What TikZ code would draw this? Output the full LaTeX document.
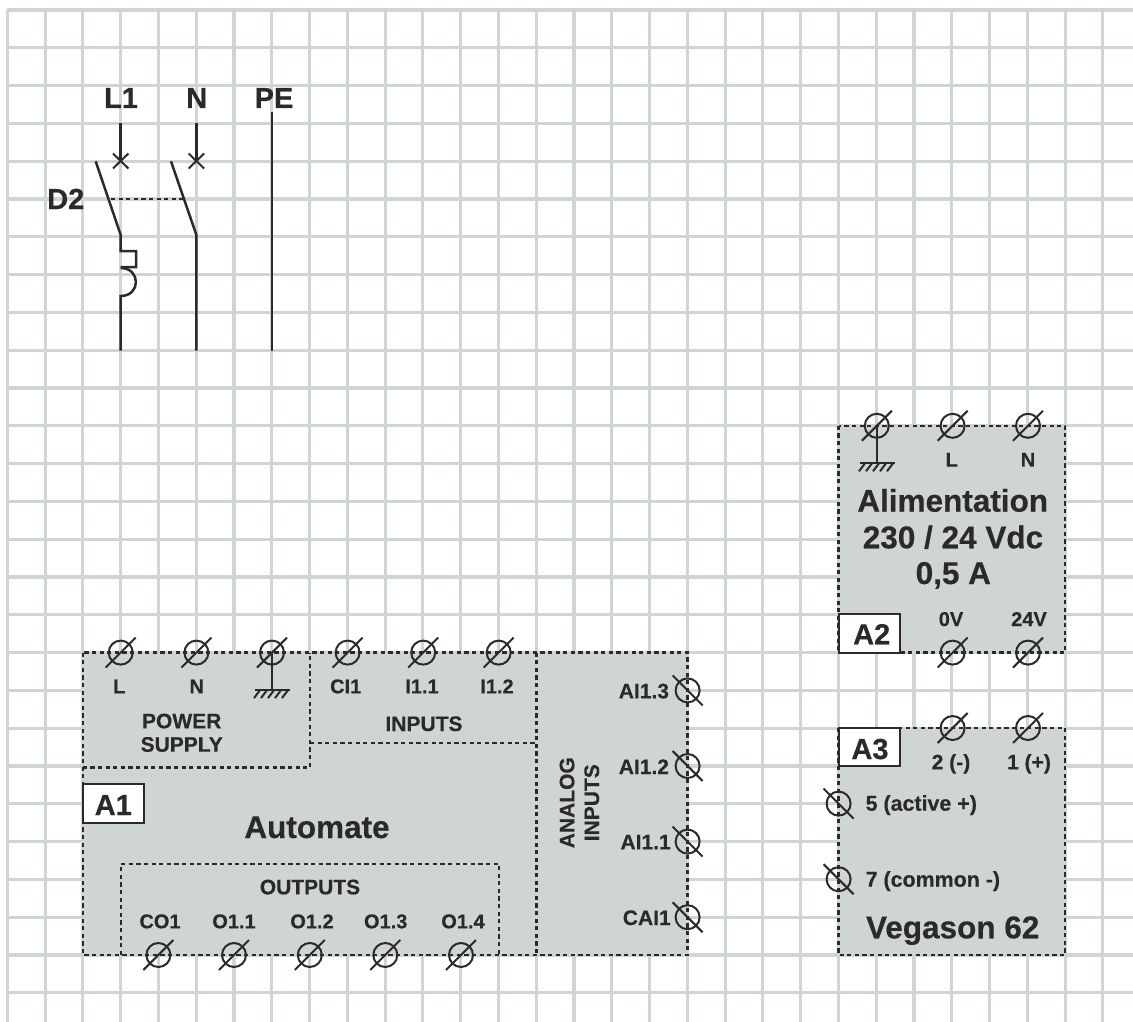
\documentclass[tikz,border=0pt]{standalone}
\usepackage{fontspec}
\setmainfont{Liberation Sans}[BoldFeatures={FakeBold=0.4}]
\definecolor{gridc}{HTML}{CFD5D5}
\definecolor{inkc}{HTML}{2B2A29}
\tikzset{
  gridline/.style={draw=gridc,line width=3.1pt},
  panel/.style={fill=gridc,draw=none},
  dashline/.style={draw=inkc,line width=2.3pt,dash pattern=on 4.2pt off 3.4pt},
  wire/.style={draw=inkc,line width=2.5pt},
  thin wire/.style={draw=inkc,line width=2pt},
  txt/.style={inner sep=0pt,outer sep=0pt,text=inkc,font=\bfseries},
  s20/.style={txt,anchor=base,font=\bfseries\fontsize{20}{20}\selectfont},
  s21/.style={txt,anchor=base,font=\bfseries\fontsize{21}{21}\selectfont},
  s29/.style={txt,anchor=base,font=\bfseries\fontsize{29}{29}\selectfont},
  s31/.style={txt,anchor=base,font=\bfseries\fontsize{31.5}{31.5}\selectfont},
  tagbox/.style={draw=inkc,fill=white,line width=2pt},
  termup/.pic={\draw[thin wire] (0,0) circle (12); \draw[thin wire] (-15,15) -- (15,-15);},
  termdn/.pic={\draw[thin wire] (0,0) circle (12); \draw[thin wire] (-15,-15) -- (15,15);},
  earth/.pic={\draw[thin wire] (0,0) -- (0,37.5); \draw[thin wire] (-17.5,37.5) -- (17.5,37.5);
    \foreach \h in {-12,-5,2,9,16}{\draw[thin wire] (\h,37.5) -- (\h-6,45.5);}},
}
\begin{document}
\begin{tikzpicture}[x=1pt,y=-1pt]
\useasboundingbox (0,0) rectangle (1133,1022);
% grid
\foreach \k in {0,...,29}{\draw[gridline] ({7.3+37.78*\k},10) -- ({7.3+37.78*\k},1022);}
\foreach \j in {0,...,26}{\draw[gridline] (7.3,{10+37.8*\j}) -- (1133,{10+37.8*\j});}
% panels
\fill[panel] (82.7,652.6) rectangle (687.6,955);
\fill[panel] (838.6,425.8) rectangle (1065.2,652.6);
\fill[panel] (838.6,728) rectangle (1065.2,955);
% dashed outlines
\draw[dashline] (82.7,652.6) rectangle (687.6,955);
\draw[dashline] (82.7,767.4) -- (310,767.4) -- (310,652.6);
\draw[dashline] (310,743.3) -- (536.6,743.3);
\draw[dashline] (536.6,652.6) -- (536.6,955);
\draw[dashline] (121,955) -- (121,864) -- (499.3,864) -- (499.3,955);
\draw[dashline] (838.6,425.8) rectangle (1065.2,652.6);
\draw[dashline] (838.6,728) rectangle (1065.2,955);
% breaker
\coordinate (l1top) at (120.7,123.3); \coordinate (l1x) at (120.7,161);
\coordinate (ntop) at (196.4,123.3); \coordinate (nx) at (196.4,161);
\coordinate (l1hinge) at (120.7,235); \coordinate (nhinge) at (196.4,235);
\coordinate (l1blade) at (95.7,161.3); \coordinate (nblade) at (171,161.3);
\coordinate (l1end) at (120.7,350.5); \coordinate (nend) at (196.4,350.5);
\coordinate (petop) at (272,112); \coordinate (peend) at (272,350.5);
\draw[wire] (l1top) -- (l1x);
\draw[wire] (ntop) -- (nx);
\draw[thin wire] (113,153.5) -- (128.4,168.5);
\draw[thin wire] (113,168.5) -- (128.4,153.5);
\draw[thin wire] (188.7,153.5) -- (204.1,168.5);
\draw[thin wire] (188.7,168.5) -- (204.1,153.5);
\draw[wire] (l1blade) -- (l1hinge) -- (120.7,251) -- (136,251) -- (136,267) -- (120.7,267);
\draw[wire] (120.7,268) .. controls (141,268) and (141,296) .. (120.7,296) -- (l1end);
\draw[wire] (nblade) -- (nhinge) -- (nend);
\draw[wire] (petop) -- (peend);
\draw[dashline] (111,199) -- (184,199);
% earth symbols
\pic at (272,652.6) {earth};
\pic at (877,425.8) {earth};
% terminals
\foreach \x in {120.7,196.4,272,347.6,423.2,498.7}{\pic at (\x,652.6) {termup};}
\foreach \x in {158.4,234,309.8,385.3,461}{\pic at (\x,955) {termup};}
\foreach \y in {690.4,766,841.6,917.2}{\pic at (687.6,\y) {termdn};}
\foreach \x in {876.8,952.6,1028}{\pic at (\x,425.8) {termup};}
\foreach \x in {952.6,1028}{\pic at (\x,652.6) {termup};}
\foreach \x in {952.6,1028}{\pic at (\x,728) {termup};}
\foreach \y in {803.6,879.2}{\pic at (838.6,\y) {termdn};}
% breaker labels
\node[s29] (tl1) at (121,108) {L1};
\node[s29] (tn) at (196.7,108) {N};
\node[s29] (tpe) at (274,108) {PE};
\node[s29] (td2) at (65.8,209) {D2};
% A1
\node[tagbox,minimum width=61pt,minimum height=38.5pt,inner sep=0pt] (a1box) at (113.4,803.4) {};
\node[s29] (a1) at (113.3,815) {A1};
\node[s20] (p1) at (119.3,693.3) {L};
\node[s20] (p2) at (196.7,693.3) {N};
\node[s20] (p3) at (345.7,693.3) {CI1};
\node[s20] (p4) at (422,693.3) {I1.1};
\node[s20] (p5) at (497,693.3) {I1.2};
\node[s21] (pw) at (181.7,728.3) {POWER};
\node[s21] (sp) at (181.7,751.7) {SUPPLY};
\node[s21] (inp) at (424,731) {INPUTS};
\node[s31] (aut) at (317,838) {Automate};
\node[s21] (outp) at (310,894.3) {OUTPUTS};
\node[s20] (o0) at (160,928.3) {CO1};
\node[s20] (o1) at (234,928.3) {O1.1};
\node[s20] (o2) at (312,928.3) {O1.2};
\node[s20] (o3) at (385.7,928.3) {O1.3};
\node[s20] (o4) at (463,928.3) {O1.4};
\node[s21,rotate=90] (an) at (574.3,802.7) {ANALOG};
\node[s21,rotate=90] (in2) at (599,802.7) {INPUTS};
\node[s21,anchor=base east] (ai3) at (669,698.3) {AI1.3};
\node[s21,anchor=base east] (ai2) at (669,774) {AI1.2};
\node[s21,anchor=base east] (ai1) at (670.7,849.3) {AI1.1};
\node[s21,anchor=base east] (cai) at (670.7,925) {CAI1};
% A2
\node[s20] (l2) at (951.7,466.7) {L};
\node[s20] (n2) at (1028,466.7) {N};
\node[s31] (al1) at (952.7,511.7) {Alimentation};
\node[s31] (al2) at (953,548.3) {230 / 24 Vdc};
\node[s31] (al3) at (953.3,584) {0,5 A};
\node[s20] (v0) at (951,626) {0V};
\node[s20] (v24) at (1029,626) {24V};
\node[tagbox,minimum width=61.4pt,minimum height=38.7pt,inner sep=0pt] (a2box) at (869.3,633.3) {};
\node[s29] (a2) at (871.7,644.3) {A2};
% A3
\node[tagbox,minimum width=61.4pt,minimum height=38.3pt,inner sep=0pt] (a3box) at (869.3,746.9) {};
\node[s29] (a3) at (870,759) {A3};
\node[s21] (t2) at (951,769.3) {2 (-)};
\node[s21] (t1) at (1029,769.3) {1 (+)};
\node[s21,anchor=base west,font=\bfseries\fontsize{21.4}{21.4}\selectfont] (t5) at (865.7,810.7) {5 (active +)};
\node[s21,anchor=base west,font=\bfseries\fontsize{21.4}{21.4}\selectfont] (t7) at (865.7,886.7) {7 (common -)};
\node[s31] (veg) at (952.7,938.3) {Vegason 62};
\end{tikzpicture}
\end{document}
